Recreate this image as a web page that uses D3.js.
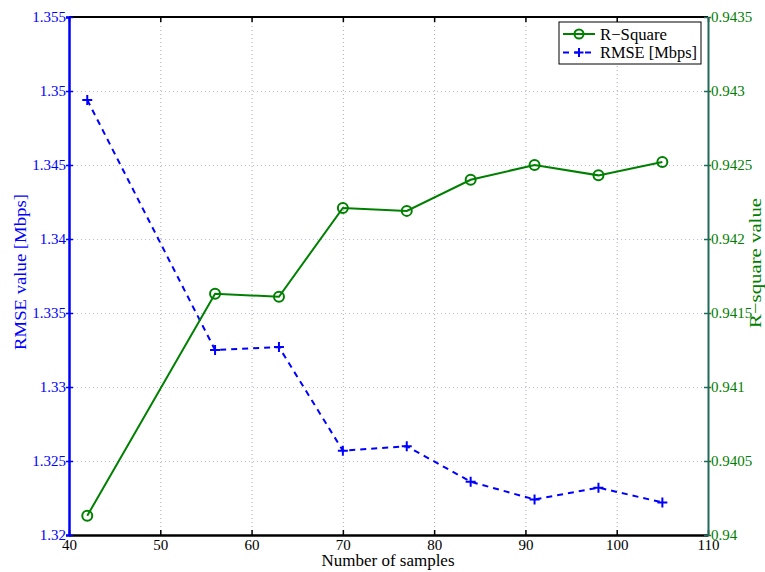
<!DOCTYPE html>
<html>
<head>
<meta charset="utf-8">
<script src="https://cdn.jsdelivr.net/npm/d3@7"></script>
<style>
  html, body { margin: 0; padding: 0; background: #fff; }
</style>
</head>
<body>
<svg id="chart" width="765" height="572"></svg>
<script>
// Sample counts on the x axis
const samples = [42, 56, 63, 70, 77, 84, 91, 98, 105];
// RMSE per sample count (left axis, Mbps)
const rmse = [1.3494, 1.3325, 1.3327, 1.3257, 1.3260, 1.3236, 1.3224, 1.3232, 1.3222];
// R-square per sample count (right axis)
const rSquare = [0.94013, 0.94163, 0.94161, 0.94221, 0.94219, 0.94240, 0.94250, 0.94243, 0.94252];

const xTicks = [40, 50, 60, 70, 80, 90, 100, 110];
const leftTicks = [1.32, 1.325, 1.33, 1.335, 1.34, 1.345, 1.35, 1.355];
const rightTicks = [0.94, 0.9405, 0.941, 0.9415, 0.942, 0.9425, 0.943, 0.9435];

const seriesNames = ["R\u2212Square", "RMSE [Mbps]"];
const axisTitles = { x: "Number of samples", left: "RMSE value [Mbps]", right: "R\u2212square value" };

const FONT = "'Liberation Serif', 'Times New Roman', serif";
const plot = { left: 69, right: 708, top: 17, bottom: 535 };
const BLUE = "#0000ff", GREEN = "#008000", RSPINE = "#1f6a5a";

const svg = d3.select("#chart");
const x = d3.scaleLinear().domain([40, 110]).range([plot.left, plot.right]);
const yL = d3.scaleLinear().domain([1.32, 1.355]).range([plot.bottom, plot.top]);
const yR = d3.scaleLinear().domain([0.94, 0.9435]).range([plot.bottom, plot.top]);
const fmt = d => String(+d.toFixed(4));
const W = plot.right - plot.left, H = plot.bottom - plot.top;

// Grid: vertical lines grey dotted, horizontal lines lavender dotted
const gx = svg.append("g").attr("transform", `translate(0,${plot.bottom})`)
  .call(d3.axisBottom(x).tickValues(xTicks.slice(1, -1)).tickSize(-H).tickFormat(""));
gx.select(".domain").remove();
gx.selectAll("line").attr("stroke", "#aaaaaa").attr("stroke-width", 1).attr("stroke-dasharray", "1,3");

const gy = svg.append("g").attr("transform", `translate(${plot.left},0)`)
  .call(d3.axisLeft(yL).tickValues(leftTicks.slice(1, -1)).tickSize(-W).tickFormat(""));
gy.select(".domain").remove();
gy.selectAll("line").attr("stroke", "#b8b8f4").attr("stroke-width", 1).attr("stroke-dasharray", "1,3");

// Top spine
svg.append("line").attr("x1", plot.left).attr("x2", plot.right).attr("y1", plot.top).attr("y2", plot.top)
  .attr("stroke", "#000").attr("stroke-width", 2);

// Bottom axis
const ax = svg.append("g").attr("transform", `translate(0,${plot.bottom})`).attr("font-family", FONT)
  .call(d3.axisBottom(x).tickValues(xTicks).tickSize(0).tickPadding(4).tickFormat(d3.format("d")));
ax.select(".domain").attr("stroke", "#000").attr("stroke-width", 2.5);
ax.selectAll("text").attr("font-family", FONT).attr("font-size", 15).attr("fill", "#000");
// Inward ticks on bottom and top
const axIn = svg.append("g").attr("transform", `translate(0,${plot.bottom})`)
  .call(d3.axisTop(x).tickValues(xTicks).tickSize(5).tickFormat(""));
axIn.select(".domain").remove();
axIn.selectAll("line").attr("stroke", "#000").attr("stroke-width", 1.5);
const atIn = svg.append("g").attr("transform", `translate(0,${plot.top})`)
  .call(d3.axisBottom(x).tickValues(xTicks).tickSize(5).tickFormat(""));
atIn.select(".domain").remove();
atIn.selectAll("line").attr("stroke", "#000").attr("stroke-width", 1.5);

// Left axis (RMSE)
const al = svg.append("g").attr("transform", `translate(${plot.left},0)`)
  .call(d3.axisLeft(yL).tickValues(leftTicks).tickSize(3).tickPadding(0).tickFormat(fmt));
al.select(".domain").attr("stroke", BLUE).attr("stroke-width", 2.5);
al.selectAll("line").attr("stroke", BLUE).attr("stroke-width", 1.5);
al.selectAll("text").attr("font-family", FONT).attr("font-size", 15).attr("fill", BLUE);
const alIn = svg.append("g").attr("transform", `translate(${plot.left},0)`)
  .call(d3.axisRight(yL).tickValues(leftTicks).tickSize(4).tickFormat(""));
alIn.select(".domain").remove();
alIn.selectAll("line").attr("stroke", BLUE).attr("stroke-width", 1.5);

// Right axis (R-square)
const ar = svg.append("g").attr("transform", `translate(${plot.right},0)`)
  .call(d3.axisRight(yR).tickValues(rightTicks).tickSizeInner(3).tickSizeOuter(0).tickPadding(0).tickFormat(fmt));
ar.select(".domain").attr("stroke", RSPINE).attr("stroke-width", 2);
ar.selectAll("line").attr("stroke", RSPINE).attr("stroke-width", 1.5);
ar.selectAll("text").attr("font-family", FONT).attr("font-size", 15).attr("fill", GREEN);
const arIn = svg.append("g").attr("transform", `translate(${plot.right},0)`)
  .call(d3.axisLeft(yR).tickValues(rightTicks).tickSize(4).tickFormat(""));
arIn.select(".domain").remove();
arIn.selectAll("line").attr("stroke", RSPINE).attr("stroke-width", 1.5);

// Axis titles
svg.append("text").attr("x", 388).attr("y", 566).attr("text-anchor", "middle")
  .attr("font-family", FONT).attr("font-size", 17).attr("fill", "#000")
  .attr("textLength", 133).attr("lengthAdjust", "spacingAndGlyphs").text(axisTitles.x);
svg.append("text").attr("transform", `translate(26,272) rotate(-90)`)
  .attr("text-anchor", "middle").attr("font-family", FONT).attr("font-size", 17).attr("fill", BLUE)
  .attr("textLength", 156).attr("lengthAdjust", "spacingAndGlyphs").text(axisTitles.left);
svg.append("text").attr("transform", `translate(761,263) rotate(-90)`)
  .attr("text-anchor", "middle").attr("font-family", FONT).attr("font-size", 17).attr("fill", GREEN)
  .attr("textLength", 130).attr("lengthAdjust", "spacingAndGlyphs").text(axisTitles.right);

// Series lines
const rData = samples.map((s, i) => [s, rSquare[i]]);
const mData = samples.map((s, i) => [s, rmse[i]]);

svg.append("path").datum(mData)
  .attr("d", d3.line().x(d => x(d[0])).y(d => yL(d[1])))
  .attr("fill", "none").attr("stroke", BLUE).attr("stroke-width", 2).attr("stroke-dasharray", "6,5");
svg.append("path").datum(rData)
  .attr("d", d3.line().x(d => x(d[0])).y(d => yR(d[1])))
  .attr("fill", "none").attr("stroke", GREEN).attr("stroke-width", 2);

// Markers
const plus = (g, cx, cy, r) => {
  g.append("path").attr("d", `M${cx - r},${cy}H${cx + r}M${cx},${cy - r}V${cy + r}`)
    .attr("stroke", BLUE).attr("stroke-width", 2).attr("fill", "none");
};
const mk = svg.append("g");
mData.forEach(d => plus(mk, x(d[0]), yL(d[1]), 5));
svg.append("g").selectAll("circle").data(rData).join("circle")
  .attr("cx", d => x(d[0])).attr("cy", d => yR(d[1])).attr("r", 5)
  .attr("fill", "none").attr("stroke", GREEN).attr("stroke-width", 2);

// Legend
const lg = svg.append("g").attr("transform", "translate(559,22)");
lg.append("rect").attr("width", 142).attr("height", 42).attr("fill", "#fff").attr("stroke", "#000").attr("stroke-width", 1);
lg.append("line").attr("x1", 4).attr("x2", 36).attr("y1", 12).attr("y2", 12).attr("stroke", GREEN).attr("stroke-width", 2);
lg.append("circle").attr("cx", 20).attr("cy", 12).attr("r", 4.5).attr("fill", "none").attr("stroke", GREEN).attr("stroke-width", 2);
lg.append("line").attr("x1", 4).attr("x2", 36).attr("y1", 30.5).attr("y2", 30.5).attr("stroke", BLUE).attr("stroke-width", 2).attr("stroke-dasharray", "6,5");
plus(lg, 20, 30.5, 4.5);
lg.append("text").attr("x", 41).attr("y", 17.5).attr("font-family", FONT).attr("font-size", 16).attr("fill", "#000")
  .attr("textLength", 67).attr("lengthAdjust", "spacingAndGlyphs").text(seriesNames[0]);
lg.append("text").attr("x", 41).attr("y", 36).attr("font-family", FONT).attr("font-size", 16).attr("fill", "#000")
  .attr("textLength", 97).attr("lengthAdjust", "spacingAndGlyphs").text(seriesNames[1]);
</script>
</body>
</html>
